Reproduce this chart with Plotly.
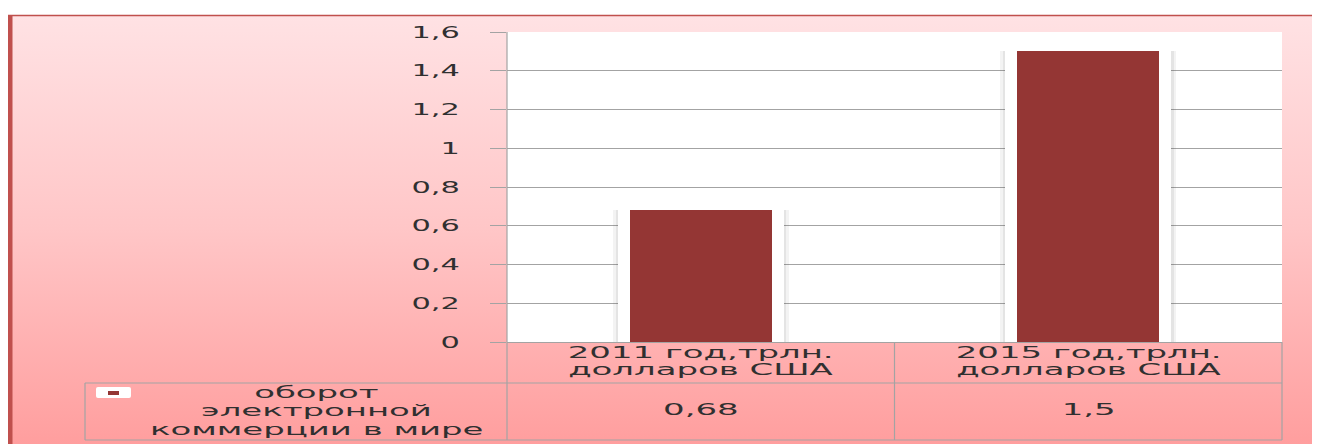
import base64
import plotly.graph_objects as go

# ---------------- data ----------------
CATEGORIES = ["2011 год,трлн.<br>долларов США", "2015 год,трлн.<br>долларов США"]
VALUES = [0.68, 1.5]
SERIES_NAME_LINES = ["оборот", "электронной", "коммерции в мире"]
Y_RANGE = [0, 1.6]
Y_DTICK = 0.2

# ---------------- geometry (page pixels; the page body has an 8px margin) ----------------
PAGE_W, PAGE_H = 1320, 444
OFF = 8
W, H = PAGE_W - OFF, PAGE_H - OFF
PLOT_L, PLOT_R, PLOT_T, PLOT_B = 507, 1282, 32, 342
PW = PLOT_R - PLOT_L
PH = PLOT_B - PLOT_T


def px(x):
    return (x - PLOT_L) / PW


def py(y):
    return (PLOT_B - y) / PH


BAR_COLOR = "#943634"
BORDER_RED = "#C0504D"
GRID = "#A3A3A3"
TEXT = "#303030"
FONT = "DejaVu Sans"
FS = 16
STRETCH_ANN = 2.12   # reference text is horizontally stretched
STRETCH_TICK = 1.9

fig = go.Figure()

# soft shadow, white glow, bar
fig.add_trace(go.Bar(x=CATEGORIES, y=VALUES, width=0.455,
                     marker=dict(color="rgba(80,80,80,0.07)", line=dict(width=0)),
                     hoverinfo="skip", showlegend=False))
fig.add_trace(go.Bar(x=CATEGORIES, y=VALUES, width=0.44,
                     marker=dict(color="rgba(80,80,80,0.09)", line=dict(width=0)),
                     hoverinfo="skip", showlegend=False))
fig.add_trace(go.Bar(x=CATEGORIES, y=VALUES, width=0.408,
                     marker=dict(color="white", line=dict(color="white", width=8)),
                     hoverinfo="skip", showlegend=False))
fig.add_trace(go.Bar(x=CATEGORIES, y=VALUES, width=0.367,
                     name=" ".join(SERIES_NAME_LINES),
                     marker=dict(color=BAR_COLOR, line=dict(width=0)),
                     showlegend=False))

# gradient background as svg image
svg = ('<svg xmlns="http://www.w3.org/2000/svg" width="100" height="100" '
       'viewBox="0 0 100 100" preserveAspectRatio="none">'
       '<defs><linearGradient id="g" x1="0" y1="0" x2="0" y2="1">'
       '<stop offset="0" stop-color="#FFE2E4"/>'
       '<stop offset="0.5" stop-color="#FFC6C7"/>'
       '<stop offset="1" stop-color="#FF9E9E"/>'
       '</linearGradient></defs>'
       '<rect x="0" y="0" width="100" height="100" fill="url(#g)"/></svg>')
src = "data:image/svg+xml;base64," + base64.b64encode(svg.encode()).decode()

fig.add_layout_image(dict(source=src, xref="paper", yref="paper",
                          x=px(OFF), y=py(15), sizex=(PAGE_W - OFF) / PW,
                          sizey=(PAGE_H - 15) / PH,
                          xanchor="left", yanchor="top", sizing="stretch",
                          layer="below", opacity=1))

shapes = []
# white plot area
shapes.append(dict(type="rect", xref="paper", yref="paper", x0=0, x1=1, y0=0, y1=1,
                   fillcolor="white", line=dict(width=0), layer="below"))
# outer border
shapes.append(dict(type="line", xref="paper", yref="paper", x0=px(OFF), x1=px(PAGE_W + 5),
                   y0=py(15.5), y1=py(15.5), line=dict(color=BORDER_RED, width=1.5)))
shapes.append(dict(type="rect", xref="paper", yref="paper", x0=px(OFF), x1=px(12.5),
                   y0=py(15), y1=py(PAGE_H + 5), fillcolor=BORDER_RED, line=dict(width=0)))


def hline(y, x0, x1):
    shapes.append(dict(type="line", xref="paper", yref="paper", x0=x0, x1=x1,
                       y0=py(y), y1=py(y), line=dict(color=GRID, width=1.2)))


def vline(x, y0, y1):
    shapes.append(dict(type="line", xref="paper", yref="paper", x0=x, x1=x,
                       y0=py(y0), y1=py(y1), line=dict(color=GRID, width=1.2)))


# data table grid
vline(0, PLOT_T, 440)
vline(0.5, PLOT_B, 440)
vline(1, PLOT_B, 440)
vline(px(85), 383, 440)
hline(383, px(85), 1)
hline(440, px(85), 1)

# legend key in table
shapes.append(dict(type="path", xref="paper", yref="paper",
                   path=("M {a},{b} L {c},{b} Q {d},{b} {d},{e} L {d},{f} Q {d},{g} {c},{g} "
                         "L {a},{g} Q {h},{g} {h},{f} L {h},{e} Q {h},{b} {a},{b} Z").format(
                       a=px(98), c=px(129), d=px(131), h=px(96),
                       b=py(387), e=py(389), f=py(396), g=py(398)),
                   fillcolor="white", line=dict(width=0)))
shapes.append(dict(type="rect", xref="paper", yref="paper", x0=px(108), x1=px(119),
                   y0=py(391), y1=py(395), fillcolor=BAR_COLOR, line=dict(width=0)))

annotations = []
for cat, val in zip(CATEGORIES, VALUES):
    for j, part in enumerate(cat.split("<br>")):
        annotations.append(dict(xref="x", yref="paper", x=cat, y=py(352 + 17 * j), text=part,
                                showarrow=False, yanchor="middle", xanchor="center",
                                font=dict(family=FONT, size=FS, color=TEXT)))
    annotations.append(dict(xref="x", yref="paper", x=cat, y=py(410),
                            text=f"{val:g}".replace(".", ","),
                            showarrow=False, yanchor="middle", xanchor="center",
                            font=dict(family=FONT, size=FS, color=TEXT)))
for i, line in enumerate(SERIES_NAME_LINES):
    annotations.append(dict(xref="paper", yref="paper", x=px(316), y=py(392 + 18.5 * i),
                            text=line, showarrow=False, yanchor="middle", xanchor="center",
                            font=dict(family=FONT, size=FS, color=TEXT)))

fig.update_layout(
    width=W, height=H,
    margin=dict(l=PLOT_L - OFF, r=PAGE_W - PLOT_R, t=PLOT_T - OFF, b=PAGE_H - PLOT_B, pad=0),
    paper_bgcolor="white",
    plot_bgcolor="rgba(0,0,0,0)",
    barmode="overlay",
    bargap=0,
    separators=", ",
    shapes=shapes,
    annotations=annotations,
    font=dict(family=FONT, color=TEXT),
    xaxis=dict(type="category", range=[-0.5, 1.5], showticklabels=False, ticks="",
               showgrid=False, zeroline=False, showline=True, linecolor=GRID,
               linewidth=1.2, fixedrange=True),
    yaxis=dict(range=Y_RANGE, dtick=Y_DTICK, tick0=0, showgrid=True, gridcolor=GRID,
               gridwidth=1.2, zeroline=False, showline=False, ticks="outside",
               ticklen=16, tickcolor=GRID, tickwidth=1.2, ticklabelstandoff=27,
               tickfont=dict(family=FONT, size=FS, color=TEXT), fixedrange=True),
)

# Stretch texts horizontally (as in the reference) while keeping them as real SVG text.
post = """
var gd = document.getElementById('{plot_id}');
function stretch(sel, k) {
  gd.querySelectorAll(sel).forEach(function(t){
    var w = t.getComputedTextLength();
    if (w > 0) {
      t.setAttribute('textLength', (w * k).toFixed(2));
      t.setAttribute('lengthAdjust', 'spacingAndGlyphs');
    }
  });
}
stretch('text.annotation-text', %s);
stretch('g.ytick text', %s);
""" % (STRETCH_ANN, STRETCH_TICK)

fig.write_html("out.html", post_script=post)
